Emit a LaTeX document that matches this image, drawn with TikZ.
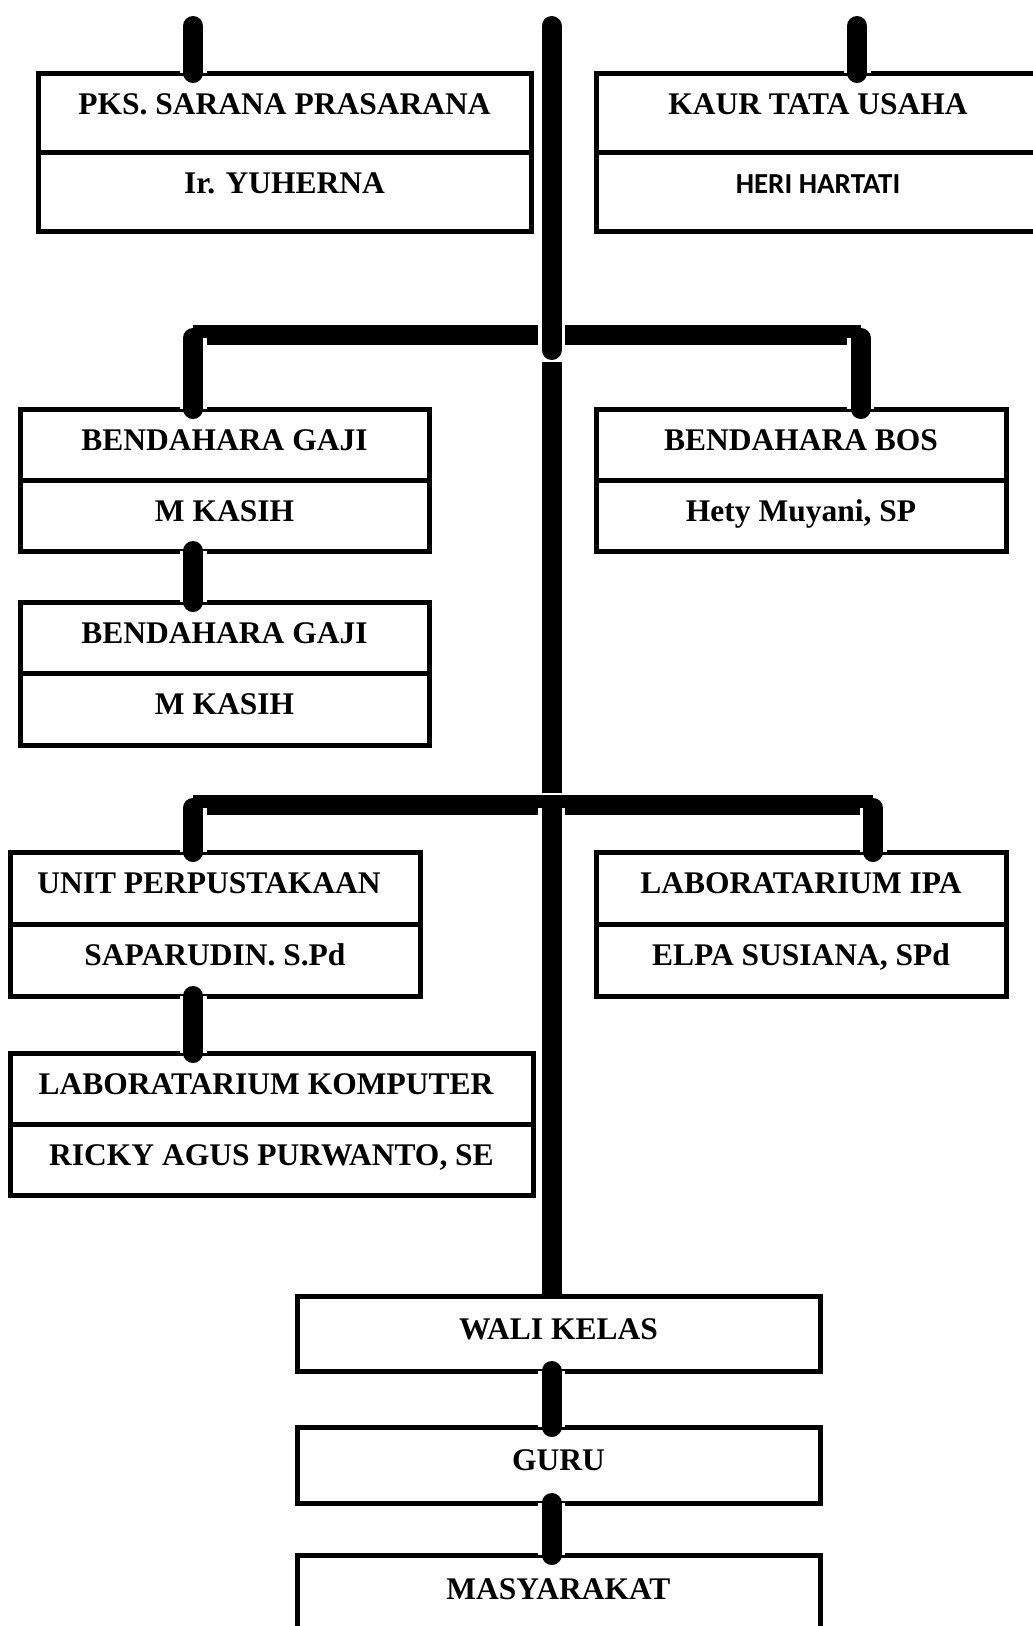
\documentclass[tikz,border=0pt]{standalone}
\usepackage{fontspec}
\setmainfont{Liberation Serif}
\newfontfamily\sansbold{Carlito}
\usetikzlibrary{positioning,calc}

\begin{document}
\begin{tikzpicture}[x=1pt,y=1pt,
	cell/.style={draw, fill=white, line width=5pt, inner sep=0pt, outer sep=0pt,
		minimum height=71pt, text height=22pt, text depth=11pt,
		font=\fontsize{31.5}{36}\selectfont\bfseries},
	tall/.style={minimum height=79pt, text height=21pt, text depth=17pt},
	conn/.style={line width=20pt, line cap=round, preaction={draw=white, line width=27pt}},
	bar/.style={line width=20pt}]
	\useasboundingbox (0,0) rectangle (1033,-1626);
	% Knoten
	\node (sarpras) at (284.5,-112.5) [cell, tall, minimum width=493pt] {PKS. SARANA PRASARANA};
	\node (sarprasN) [cell, tall, minimum width=493pt, below=0pt of sarpras] {Ir. YUHERNA};
	\node (kaur) at (818,-112.5) [cell, tall, minimum width=444pt] {KAUR TATA USAHA};
	\node (kaurN) [cell, tall, minimum width=444pt, below=0pt of kaur,
		font=\sansbold\fontsize{29}{34}\selectfont\bfseries] {HERI HARTATI};
	\node (gaji1) at (224.5,-444.5) [cell, minimum width=409pt] {BENDAHARA GAJI};
	\node (gaji1N) [cell, minimum width=409pt, below=0pt of gaji1] {M KASIH};
	\node (bos) at (801,-444.5) [cell, minimum width=410pt] {BENDAHARA BOS};
	\node (bosN) [cell, minimum width=410pt, below=0pt of bos] {Hety Muyani, SP};
	\node (gaji2) at (224.5,-637.75) [cell, minimum width=409pt, minimum height=71.5pt] {BENDAHARA GAJI};
	\node (gaji2N) [cell, minimum width=409pt, minimum height=71.5pt, below=0pt of gaji2] {M KASIH};
	\node (pustaka) at (215,-888) [cell, minimum width=410pt, minimum height=72pt] {UNIT PERPUSTAKAAN\kern12pt};
	\node (pustakaN) [cell, minimum width=410pt, minimum height=72pt, below=0pt of pustaka] {SAPARUDIN. S.Pd};
	\node (ipa) at (801,-888) [cell, minimum width=410pt, minimum height=72pt] {LABORATARIUM IPA};
	\node (ipaN) [cell, minimum width=410pt, minimum height=72pt, below=0pt of ipa] {ELPA SUSIANA, SPd};
	\node (komputer) at (271.5,-1088.5) [cell, minimum width=523pt] {LABORATARIUM KOMPUTER\kern11pt};
	\node (komputerN) [cell, minimum width=523pt, below=0pt of komputer] {RICKY AGUS PURWANTO, SE};
	% Hilfspunkte
	\coordinate (L) at (193,0);
	\coordinate (R0) at (857,0);
	\coordinate (R1) at (860.5,0);
	\coordinate (R2) at (873,0);
	\coordinate (T) at (0,-26);
	\coordinate (j1) at (551.5,-335);
	\coordinate (j2) at (551.5,-805);
	\coordinate (waliTop) at (551.5,-1296);
	% Kanten
	\draw[bar] (L |- j1) -- (R1 |- j1);
	\draw[bar] (L |- j2) -- (R2 |- j2);
	\draw[conn] (L |- T) -- (L |- sarpras.north);
	\draw[conn] (R0 |- T) -- (R0 |- kaur.north);
	\draw[conn] (j1 |- T) -- ($(j1)+(0,-15)$);
	\draw[conn, line cap=butt] ($(j1)+(0,-27)$) -- ($(j2)+(0,12)$);
	\draw[conn] ($(L |- j1)+(0,-3)$) -- (L |- gaji1.north);
	\draw[conn] ($(R1 |- j1)+(0,-3)$) -- (R1 |- bos.north);
	\draw[conn] (L |- gaji1N.south) -- (L |- gaji2.north);
	\draw[conn] ($(L |- j2)+(0,-3)$) -- (L |- pustaka.north);
	\draw[conn] ($(R2 |- j2)+(0,-3)$) -- (R2 |- ipa.north);
	\draw[conn] (L |- pustakaN.south) -- (L |- komputer.north);
	\draw[conn] ($(j2)+(0,-3)$) -- (waliTop);
	% untere Reihe
	\node (wali) at (558.5,-1333.5) [cell, minimum width=523pt, minimum height=75pt] {WALI KELAS};
	\node (guru) at (558.5,-1465) [cell, minimum width=523pt, minimum height=76pt] {GURU};
	\node (masy) at (558.5,-1594) [cell, minimum width=523pt, minimum height=78pt] {MASYARAKAT};
	\draw[conn] (j2 |- wali.south) -- (j2 |- guru.north);
	\draw[conn] (j2 |- guru.south) -- (j2 |- masy.north);
\end{tikzpicture}
\end{document}
